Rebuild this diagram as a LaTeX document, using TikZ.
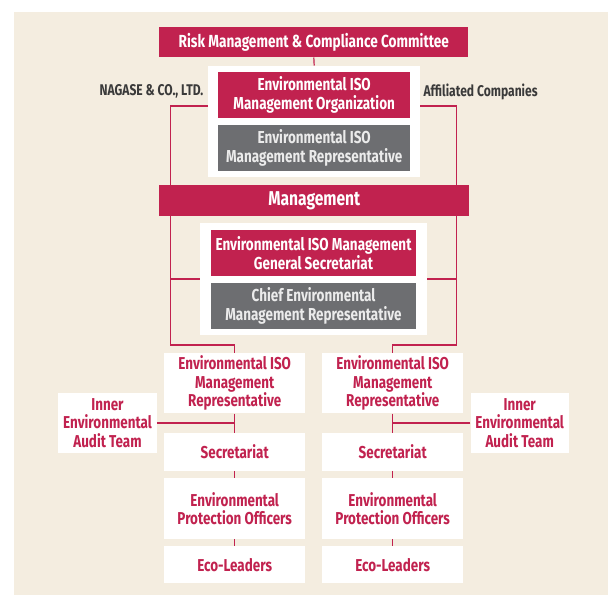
\documentclass[tikz,border=0pt]{standalone}
\usepackage{fontspec}
\setmainfont{Fira Sans}[FakeStretch=0.78]
\usepackage{xcolor}
\usepackage{tikz}
\usetikzlibrary{positioning, calc}

\definecolor{crimson}{HTML}{C1224F}
\definecolor{slate}{HTML}{6D6E71}
\definecolor{paper}{HTML}{F4EDE0}
\definecolor{ink}{HTML}{3A3A3A}

\begin{document}
\begin{tikzpicture}[
  x=1pt, y=-1pt,
  font=\bfseries,
  bar/.style={fill=crimson, text=white, minimum width=309pt, minimum height=30.6pt, inner sep=0pt, font=\fontsize{17.5}{19}\selectfont\bfseries},
  redbox/.style={fill=crimson, text=white, align=center, inner sep=0pt, minimum height=46pt, font=\fontsize{17.3}{18.5}\selectfont\bfseries},
  greybox/.style={redbox, fill=slate, text=white!92!black},
  panel/.style={fill=white, inner sep=0pt},
  unit/.style={fill=white, text=crimson, align=center, inner sep=0pt, minimum width=140.5pt, font=\fontsize{17.2}{18.3}\selectfont\bfseries},
  audit/.style={unit, minimum width=98.2pt, minimum height=60.6pt},
  tag/.style={text=ink, inner sep=0pt, font=\fontsize{15.5}{16}\selectfont\bfseries},
  link/.style={draw=crimson, line width=1.2pt}
]
\useasboundingbox (0,0) rectangle (608,595);
\fill[paper] (14,12) rectangle (608,595);

\node[bar] (risk) at (313.8,42) {Risk Management \& Compliance Committee};
\node[panel, minimum width=211.7pt, minimum height=111.6pt] (panelA) at (314.2,121.5) {};
\node[redbox, minimum width=191.7pt, minimum height=46.6pt] (isoorg) at (314.2,95) {Environmental ISO\\Management Organization};
\node[greybox, minimum width=191.7pt, minimum height=45.7pt] (isorep) at (314.2,147.9) {Environmental ISO\\Management Representative};
\node[tag, anchor=east] (nagase) at (203.5,91) {NAGASE \& CO., LTD.};
\node[tag, anchor=west] (affil) at (423.3,92) {Affiliated Companies};

\node[bar, minimum width=310pt, font=\fontsize{20}{21}\selectfont\bfseries] (mgmt) at (314.3,200.3) {Management};
\node[panel, minimum width=227pt, minimum height=112.3pt] (panelB) at (313.5,278.9) {};
\node[redbox, minimum width=205pt] (gensec) at (313.5,253) {Environmental ISO Management\\General Secretariat};
\node[greybox, minimum width=205pt, minimum height=46.3pt] (chief) at (313.5,306) {Chief Environmental\\Management Representative};

\node[unit, minimum height=60.6pt] (repL) at (234.7,383) {Environmental ISO\\Management\\Representative};
\node[unit, minimum height=37.4pt] (secL) at (234.7,452) {Secretariat};
\node[unit, minimum height=60.7pt] (epoL) at (234.7,508.7) {Environmental\\Protection Officers};
\node[unit, minimum height=37.3pt] (ecoL) at (234.7,564.7) {Eco-Leaders};
\node[audit] (auditL) at (107.5,423) {Inner\\Environmental\\Audit Team};

\node[unit, minimum height=60.6pt] (repR) at (392.7,383) {Environmental ISO\\Management\\Representative};
\node[unit, minimum height=37.4pt] (secR) at (392.7,452) {Secretariat};
\node[unit, minimum height=60.7pt] (epoR) at (392.7,508.7) {Environmental\\Protection Officers};
\node[unit, minimum height=37.3pt] (ecoR) at (392.7,564.7) {Eco-Leaders};
\node[audit] (auditR) at (519.7,423) {Inner\\Environmental\\Audit Team};

\coordinate (busL) at (170.7,106);
\coordinate (busR) at (456.7,106);

\draw[link] (risk.south) -- (panelA.north);
\draw[link] (panelA.west |- busL) -- (busL) -- (busL |- mgmt.north);
\draw[link] (panelA.east |- busR) -- (busR) -- (busR |- mgmt.north);
\draw[link] (busL |- mgmt.south) -- (busL |- 0,345) -| (repL.north);
\draw[link] (busR |- mgmt.south) -- (busR |- 0,345) -| (repR.north);
\draw[link] (busL |- panelB.west) -- (panelB.west);
\draw[link] (busR |- panelB.east) -- (panelB.east);

\draw[link] (repL) -- (secL);
\draw[link] (secL) -- (epoL);
\draw[link] (epoL) -- (ecoL);
\draw[link] (auditL.east) -- (auditL.east -| repL.south);
\draw[link] (repR) -- (secR);
\draw[link] (secR) -- (epoR);
\draw[link] (epoR) -- (ecoR);
\draw[link] (auditR.west) -- (auditR.west -| repR.south);
\end{tikzpicture}
\end{document}
